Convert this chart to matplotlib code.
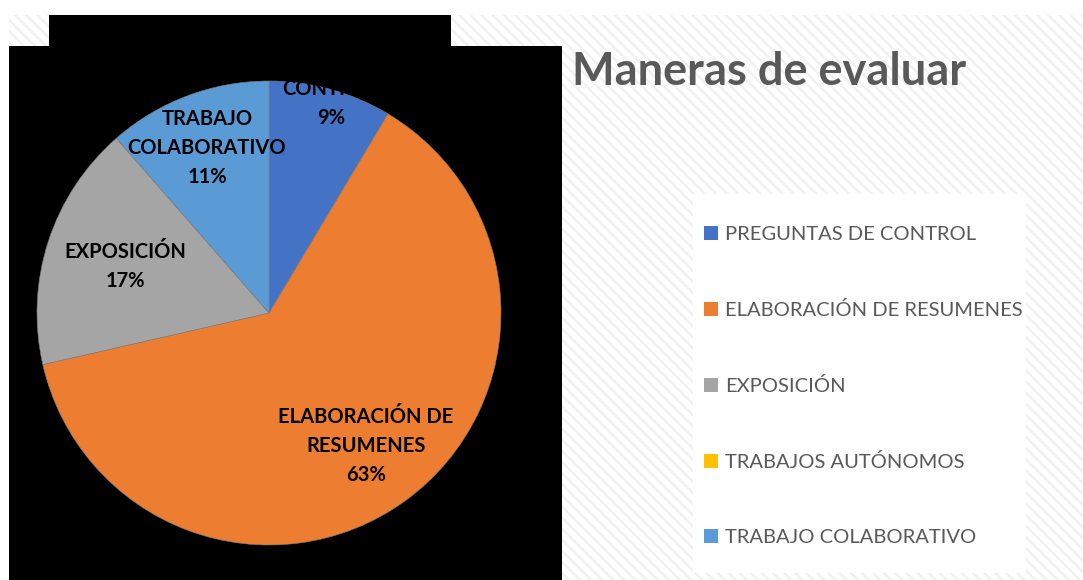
import matplotlib
matplotlib.use("Agg")
import matplotlib.pyplot as plt
from matplotlib.patches import Rectangle
import numpy as np

# ---- data ----
categories = ["PREGUNTAS DE CONTROL", "ELABORACIÓN DE RESUMENES", "EXPOSICIÓN",
              "TRABAJOS AUTÓNOMOS", "TRABAJO COLABORATIVO"]
values = [3, 22, 6, 0, 4]
slice_labels = ["PREGUNTAS DE\nCONTROL", "ELABORACIÓN DE\nRESUMENES", "EXPOSICIÓN",
                None, "TRABAJO\nCOLABORATIVO"]
colors = ["#4472C4", "#ED7D31", "#A5A5A5", "#FFC000", "#5B9BD5"]
title = "Maneras de evaluar"

# label radial distance (fraction of radius) - layout
label_dist = [1.0, 0.71, 0.65, 0.7, 0.76]

W, H = 1083, 580
plt.rcParams["hatch.linewidth"] = 1.8
plt.rcParams["font.family"] = ["Lato", "DejaVu Sans"]

fig = plt.figure(figsize=(W / 100, H / 100), dpi=100, facecolor="white")


def fx(px):
    return px / W


def fy(py):
    return 1 - py / H


# hatched background
fig.patches.append(Rectangle((fx(9), fy(580)), fx(1083) - fx(9), fy(15) - fy(580),
                             transform=fig.transFigure, facecolor="white",
                             edgecolor="#f1f1f1", linewidth=0, hatch="\\\\\\", zorder=0))
# black plot background (with notch)
fig.patches.append(Rectangle((fx(49), fy(46)), fx(451) - fx(49), fy(15) - fy(46),
                             transform=fig.transFigure, facecolor="black",
                             edgecolor="none", zorder=1))
fig.patches.append(Rectangle((fx(9), fy(580)), fx(562) - fx(9), fy(46) - fy(580),
                             transform=fig.transFigure, facecolor="black",
                             edgecolor="none", zorder=1))
# legend white box
fig.patches.append(Rectangle((fx(693), fy(573)), fx(1026) - fx(693), fy(194) - fy(573),
                             transform=fig.transFigure, facecolor="white",
                             edgecolor="none", zorder=1))

# title
fig.text(fx(572), fy(72), title, fontsize=32.5, fontweight="bold", color="#595959",
         ha="left", va="center", zorder=3)

# pie axes
cx, cy, r = 269, 313, 232
ax = fig.add_axes([fx(cx - r), fy(cy + r), (2 * r) / W, (2 * r) / H])
ax.set_zorder(2)
ax.set_facecolor("none")
wedges, _ = ax.pie(values, colors=colors, startangle=90, counterclock=False,
                   radius=1, wedgeprops=dict(edgecolor="#808080", linewidth=0.4))
ax.set_xlim(-1, 1)
ax.set_ylim(-1, 1)
ax.set_aspect("equal")
ax.axis("off")

total = sum(values)
for w, lab, v, d in zip(wedges, slice_labels, values, label_dist):
    if v == 0 or lab is None:
        continue
    ang = np.deg2rad((w.theta1 + w.theta2) / 2)
    txt = f"{lab}\n{round(100 * v / total)}%"
    ax.text(d * np.cos(ang), d * np.sin(ang), txt, ha="center", va="center",
            fontsize=14.5, fontweight="bold", color="black", linespacing=1.55,
            clip_on=False)

# legend
handles = [Rectangle((0, 0), 1, 1, facecolor=c, edgecolor="none") for c in colors]
leg = fig.legend(handles, categories, loc="upper left",
                 bbox_to_anchor=(fx(704), fy(226)), frameon=False,
                 fontsize=14.5, labelspacing=2.88, handlelength=0.7,
                 handleheight=0.7, handletextpad=0.35, borderpad=0,
                 borderaxespad=0)
leg.set_zorder(3)
for t in leg.get_texts():
    t.set_color("#595959")

fig.savefig("out.png", dpi=100, facecolor="white")
